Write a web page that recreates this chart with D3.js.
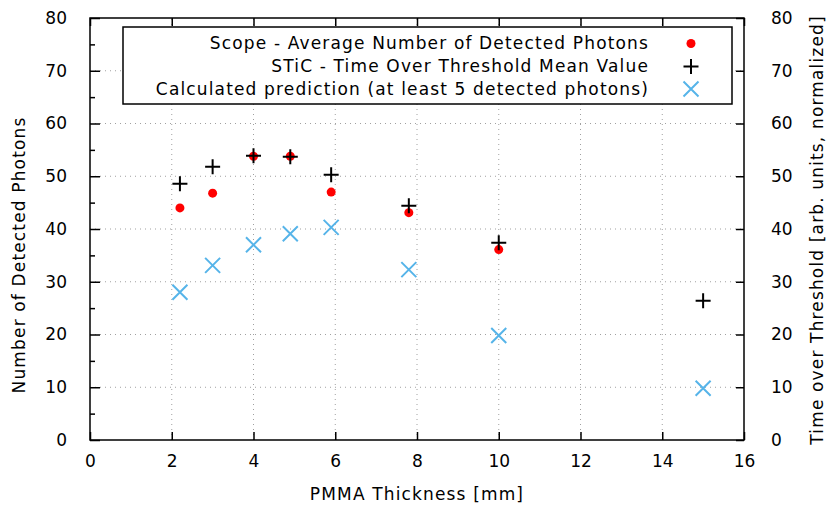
<!DOCTYPE html>
<html><head><meta charset="utf-8">
<script src="https://cdn.jsdelivr.net/npm/d3@7"></script>
<style>body{margin:0;background:#fff;} text{font-family:"DejaVu Sans",sans-serif;}</style>
</head><body>
<svg id="c" width="829" height="508"></svg>
<script>
const thickness = [2.2, 3.0, 4.0, 4.9, 5.9, 7.8, 10.0];
const scopePhotons = [44.0, 46.8, 53.8, 53.8, 47.0, 43.1, 36.1];
const sticThickness = [2.2, 3.0, 4.0, 4.9, 5.9, 7.8, 10.0, 15.0];
const sticTot = [48.6, 51.8, 53.9, 53.7, 50.3, 44.4, 37.4, 26.4];
const predThickness = [2.2, 3.0, 4.0, 4.9, 5.9, 7.8, 10.0, 15.0];
const predPhotons = [28.0, 33.1, 37.0, 39.1, 40.3, 32.3, 19.8, 9.8];
const xTicks = [0, 2, 4, 6, 8, 10, 12, 14, 16];
const yTicks = [0, 10, 20, 30, 40, 50, 60, 70, 80];
const yMinorTicks = [5, 15, 25, 35, 45, 55, 65, 75];
const legendLabels = ["Scope - Average Number of Detected Photons", "STiC - Time Over Threshold Mean Value", "Calculated prediction (at least 5 detected photons)"];

const L = 90, R = 744, T = 18, B = 440;
const svg = d3.select("#c");
const x = d3.scaleLinear().domain([0, 16]).range([L, R]);
const y = d3.scaleLinear().domain([0, 80]).range([B, T]);
const y2 = d3.scaleLinear().domain([0, 80]).range([B, T]);
const FS = 17;
const LS = "1.15px";

// grid
const grid = svg.append("g").attr("stroke", "#a0a0a0").attr("stroke-width", 1).attr("stroke-dasharray", "1,4");
grid.selectAll("line.v").data(xTicks.slice(1, -1)).enter().append("line")
  .attr("x1", d => x(d)).attr("x2", d => x(d)).attr("y1", B).attr("y2", T);
grid.selectAll("line.h").data(yTicks.slice(1, -1)).enter().append("line")
  .attr("y1", d => y(d)).attr("y2", d => y(d)).attr("x1", L).attr("x2", R);

// axes
function styleAxis(g) {
  g.select(".domain").remove();
  g.selectAll(".tick line").attr("stroke", "#000").attr("stroke-width", 1.5);
  g.selectAll(".tick text").attr("font-size", FS).attr("font-family", "DejaVu Sans").attr("fill", "#000");
}
svg.append("g").attr("transform", `translate(0,${B})`)
  .call(d3.axisBottom(x).tickValues(xTicks).tickSizeInner(-8).tickSizeOuter(0).tickPadding(15).tickFormat(d3.format("d")))
  .call(styleAxis);
svg.append("g").attr("transform", `translate(0,${T})`)
  .call(d3.axisTop(x).tickValues(xTicks).tickSizeInner(-8).tickSizeOuter(0).tickFormat(""))
  .call(styleAxis);
svg.append("g").attr("transform", `translate(${L},0)`)
  .call(d3.axisLeft(y).tickValues(yTicks).tickSizeInner(-10).tickSizeOuter(0).tickPadding(23).tickFormat(d3.format("d")))
  .call(styleAxis);
svg.append("g").attr("transform", `translate(${L},0)`)
  .call(d3.axisLeft(y).tickValues(yMinorTicks).tickSizeInner(-5).tickSizeOuter(0).tickFormat(""))
  .call(styleAxis);
svg.append("g").attr("transform", `translate(${R},0)`)
  .call(d3.axisRight(y2).tickValues(yTicks).tickSizeInner(-8).tickSizeOuter(0).tickPadding(27).tickFormat(d3.format("d")))
  .call(styleAxis);

// border
svg.append("rect").attr("x", L).attr("y", T).attr("width", R - L).attr("height", B - T)
  .attr("fill", "none").attr("stroke", "#000").attr("stroke-width", 1.5);

// axis labels
svg.append("text").attr("x", (L + R) / 2).attr("y", 500).attr("text-anchor", "middle").attr("font-size", FS).attr("letter-spacing", LS).text("PMMA Thickness [mm]");
svg.append("text").attr("transform", `translate(25,255) rotate(-90)`).attr("text-anchor", "middle").attr("font-size", FS).attr("letter-spacing", LS).text("Number of Detected Photons");
svg.append("text").attr("transform", `translate(823,230) rotate(-90)`).attr("text-anchor", "middle").attr("font-size", FS).attr("letter-spacing", LS).text("Time over Threshold [arb. units, normalized]");

// marker drawers
function drawDot(g, cx, cy) { g.append("circle").attr("cx", cx).attr("cy", cy).attr("r", 4.5).attr("fill", "#ff0000"); }
function drawPlus(g, cx, cy) {
  const s = 7.5;
  g.append("path").attr("d", `M${cx - s},${cy}H${cx + s}M${cx},${cy - s}V${cy + s}`).attr("stroke", "#000").attr("stroke-width", 2).attr("fill", "none");
}
function drawX(g, cx, cy) {
  const s = 7.5;
  g.append("path").attr("d", `M${cx - s},${cy - s}L${cx + s},${cy + s}M${cx - s},${cy + s}L${cx + s},${cy - s}`).attr("stroke", "#56b4e9").attr("stroke-width", 2).attr("fill", "none");
}

// legend
const lg = svg.append("g");
lg.append("rect").attr("x", 123).attr("y", 27).attr("width", 609).attr("height", 77).attr("fill", "#fff").attr("stroke", "#000").attr("stroke-width", 1.5);
const rows = [43.5, 66.5, 89];
const drawers = [drawDot, drawPlus, drawX];
legendLabels.forEach((t, i) => {
  lg.append("text").attr("x", 649).attr("y", rows[i]).attr("dy", "0.35em").attr("text-anchor", "end").attr("font-size", FS).attr("letter-spacing", LS).text(t);
  drawers[i](lg, 691, rows[i]);
});

// data
const pts = svg.append("g");
predThickness.forEach((d, i) => drawX(pts, x(d), y(predPhotons[i])));
thickness.forEach((d, i) => drawDot(pts, x(d), y(scopePhotons[i])));
sticThickness.forEach((d, i) => drawPlus(pts, x(d), y2(sticTot[i])));
</script>
</body></html>
